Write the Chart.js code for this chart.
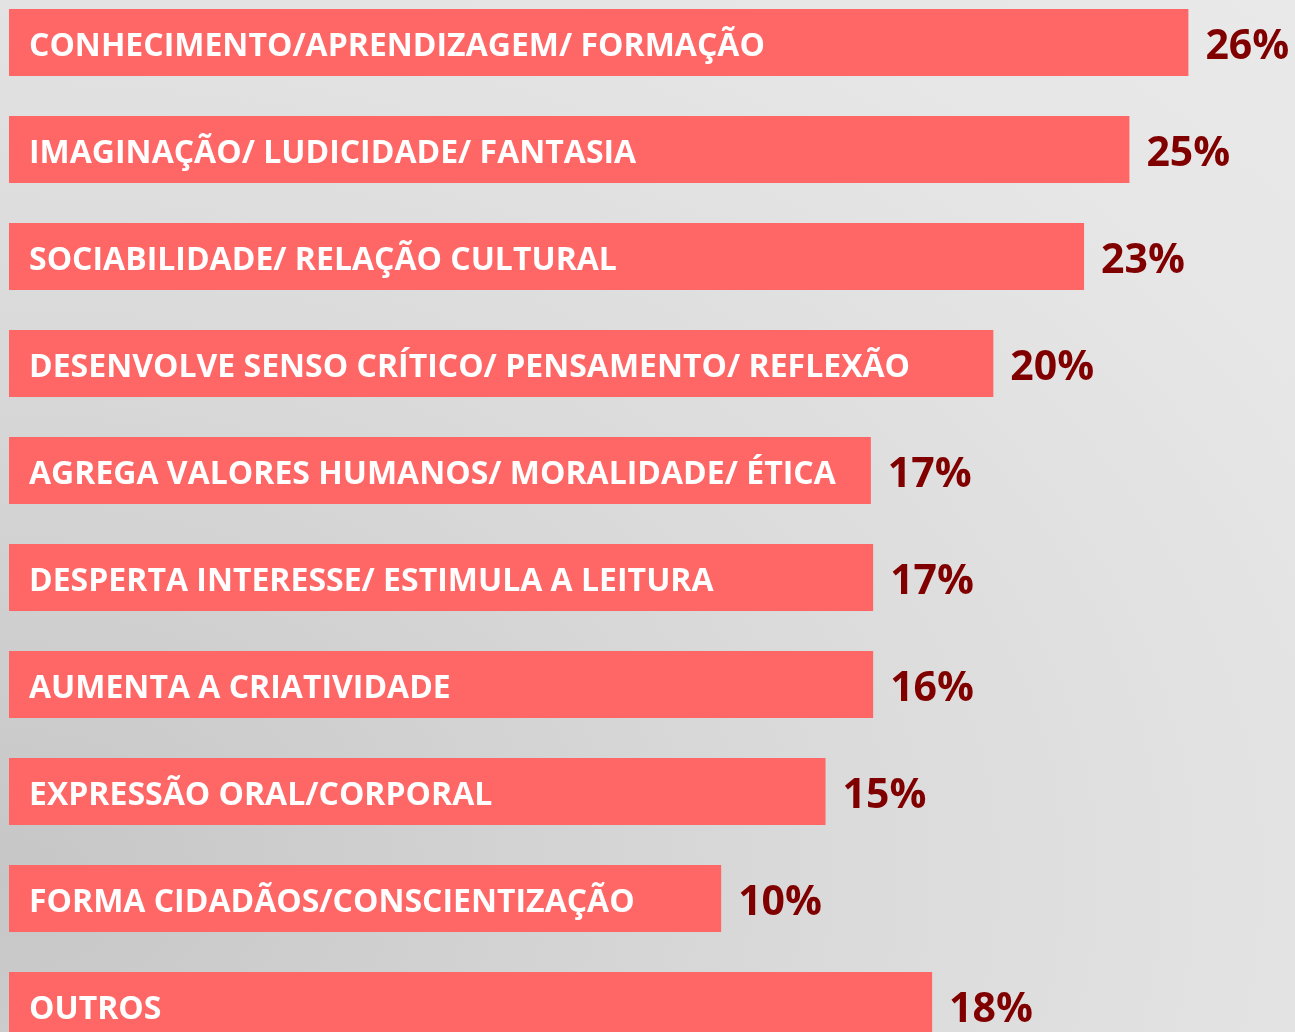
<!DOCTYPE html>
<html>
<head>
<meta charset="utf-8">
<script src="https://cdn.jsdelivr.net/npm/chart.js@4.4.0/dist/chart.umd.min.js"></script>
<style>
  html, body { margin: 0; padding: 0; }
  body {
    width: 1295px;
    height: 1032px;
    overflow: hidden;
    background: radial-gradient(ellipse 140% 120% at 0% 85%, #c6c6c6 0%, #dadada 45%, #e6e6e6 80%, #e9e9e9 100%);
  }
  #wrap { position: relative; width: 1295px; height: 1032px; overflow: hidden; }
  #chart { position: absolute; left: 0; top: -11px; }
</style>
</head>
<body>
<div id="wrap">
  <canvas id="chart" width="1295" height="1070"></canvas>
</div>
<script>
const categories = [
  "CONHECIMENTO/APRENDIZAGEM/ FORMAÇÃO",
  "IMAGINAÇÃO/ LUDICIDADE/ FANTASIA",
  "SOCIABILIDADE/ RELAÇÃO CULTURAL",
  "DESENVOLVE SENSO CRÍTICO/ PENSAMENTO/ REFLEXÃO",
  "AGREGA VALORES HUMANOS/ MORALIDADE/ ÉTICA",
  "DESPERTA INTERESSE/ ESTIMULA A LEITURA",
  "AUMENTA A CRIATIVIDADE",
  "EXPRESSÃO ORAL/CORPORAL",
  "FORMA CIDADÃOS/CONSCIENTIZAÇÃO",
  "OUTROS"
]
// printed percentages
const percentLabels = [26, 25, 23, 20, 17, 17, 16, 15, 10, 18]
// drawn bar lengths (same units, bar 1 = 26)
const barLengths = [26, 24.7, 23.7, 21.7, 19.0, 19.05, 19.05, 18.0, 15.7, 20.35]

const barColor = '#ff6666'
const valueColor = '#800000'

const labelPlugin = {
  id: 'barLabels',
  afterDatasetsDraw(chart) {
    const ctx = chart.ctx
    const meta = chart.getDatasetMeta(0)
    ctx.save()
    meta.data.forEach((bar, i) => {
      // category name inside the bar
      ctx.font = 'bold 32px "Open Sans"'
      ctx.fillStyle = '#ffffff'
      ctx.textAlign = 'left'
      ctx.textBaseline = 'alphabetic'
      ctx.fillText(categories[i], bar.base + 20, bar.y + 13)

      // percentage after the bar
      ctx.font = 'bold 41px "Open Sans"'
      ctx.fillStyle = valueColor
      ctx.fillText(percentLabels[i] + '%', bar.x + 17, bar.y + 16)
    })
    ctx.restore()
  }
}

document.fonts.load('bold 32px "Open Sans"').then(() => {
  const ctx = document.getElementById('chart')
  const myChart = new Chart(ctx, {
    type: 'bar',
    data: {
      labels: categories,
      datasets: [{
        data: barLengths,
        backgroundColor: barColor,
        borderWidth: 0,
        categoryPercentage: 1,
        barPercentage: 67 / 107
      }]
    },
    options: {
      indexAxis: 'y',
      responsive: false,
      animation: false,
      layout: { padding: { left: 9, right: 0, top: 0, bottom: 0 } },
      plugins: {
        legend: { display: false },
        tooltip: { enabled: false }
      },
      scales: {
        x: { display: false, min: 0, max: 28.35 },
        y: { display: false, grid: { display: false } }
      }
    },
    plugins: [labelPlugin]
  })
})
</script>
</body>
</html>
